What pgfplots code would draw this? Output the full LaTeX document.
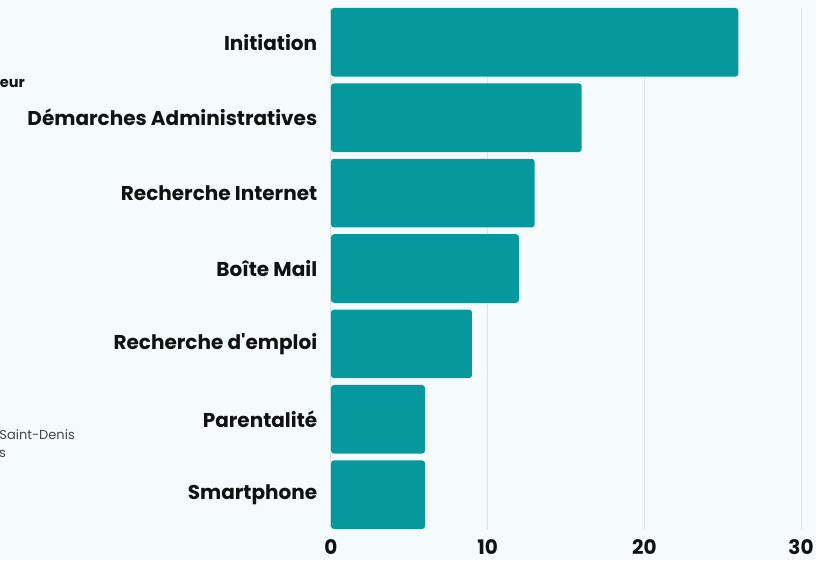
\documentclass[border=0pt]{standalone}
\usepackage{pgfplots}
\pgfplotsset{compat=1.18}
\usetikzlibrary{backgrounds}
\usepackage{fontspec}
\setmainfont{Poppins}
\definecolor{bg}{HTML}{F5FBFC}
\definecolor{bar}{HTML}{05999D}
\definecolor{gridc}{HTML}{DDE3E5}
\definecolor{txt}{HTML}{111111}
\definecolor{gr}{HTML}{444444}
\begin{document}
\begin{tikzpicture}[background rectangle/.style={fill=bg,draw=none}, show background rectangle, inner frame sep=0pt]
\begin{axis}[
  name=ax,
  scale only axis, width=470pt, height=521pt,
  xmin=0, xmax=30, ymin=-0.455, ymax=6.455,
  xbar, bar width=68.6pt, bar shift=0pt,
  axis line style={draw=none},
  xtick={0,10,20,30},
  ytick={0,...,6},
  yticklabels={Smartphone,Parentalité,Recherche d\textquotesingle emploi,Boîte Mail,Recherche Internet,Démarches Administratives,Initiation},
  tick style={draw=none},
  xmajorgrids, major grid style={gridc, line width=1pt},
  /pgf/number format/assume math mode=true,
  ticklabel style={font=\fontsize{20}{22}\selectfont\bfseries, text=txt},
  yticklabel style={xshift=-6pt},
  xticklabel style={yshift=-7pt},
]
\addplot[fill=bar, draw=none, rounded corners=3pt] coordinates {
(6,0) (6,1) (9,2) (12,3) (13,4) (16,5) (26,6)};
\end{axis}
\pgfresetboundingbox
\path[use as bounding box] (ax.south west) ++(-331pt,-31pt) rectangle ++(816pt,560pt);
\node[anchor=base east,font=\fontsize{14.5}{16}\selectfont\bfseries,text=txt,inner sep=0] at ([shift={(-306pt,441pt)}]ax.south west) {eur};
\node[anchor=base east,font=\fontsize{13}{15}\selectfont,text=gr,inner sep=0] at ([shift={(-256pt,90pt)}]ax.south west) {Saint-Denis};
\node[anchor=base east,font=\fontsize{13}{15}\selectfont,text=gr,inner sep=0] at ([shift={(-325pt,72pt)}]ax.south west) {s};
\end{tikzpicture}
\end{document}
